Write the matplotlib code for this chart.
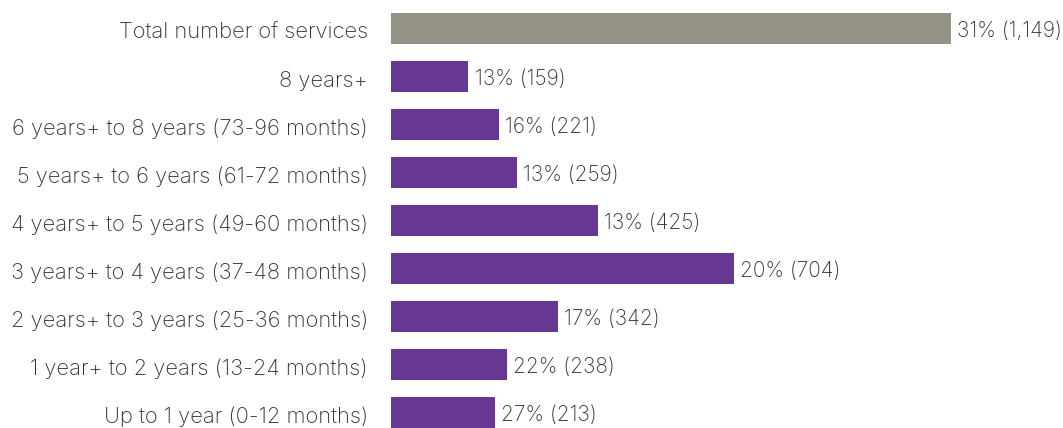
import matplotlib
matplotlib.use("Agg")
import matplotlib.pyplot as plt

categories = [
    "Total number of services",
    "8 years+",
    "6 years+ to 8 years (73-96 months)",
    "5 years+ to 6 years (61-72 months)",
    "4 years+ to 5 years (49-60 months)",
    "3 years+ to 4 years (37-48 months)",
    "2 years+ to 3 years (25-36 months)",
    "1 year+ to 2 years (13-24 months)",
    "Up to 1 year (0-12 months)",
]
counts = [1149, 159, 221, 259, 425, 704, 342, 238, 213]
percents = [31, 13, 16, 13, 13, 20, 17, 22, 27]

GREY = "#949285"
PURPLE = "#663894"
TEXT = "#333333"

plt.rcParams["font.family"] = ["Inter", "DejaVu Sans"]

W, H, DPI = 1063, 428, 100
fig = plt.figure(figsize=(W / DPI, H / DPI), dpi=DPI)
left = 391 / W
ax = fig.add_axes([left, 0, 1 - left, 1])

colors = [GREY] + [PURPLE] * (len(counts) - 1)
ypos = list(range(len(categories)))
ax.barh(ypos, counts, height=0.65, color=colors)

for y, c, p in zip(ypos, counts, percents):
    ax.text(c + 13, y + 0.05, f"{p}% ({c:,})", va="center", ha="left",
            fontsize=15, color=TEXT, fontweight="light")

ax.set_xlim(0, 1380)
ax.set_ylim((H - 28.5) / 48, -28.5 / 48)
ax.set_yticks([y + 0.05 for y in ypos])
ax.set_yticklabels(categories, fontsize=15.8, color=TEXT, fontweight="light")
ax.tick_params(axis="y", length=0, pad=16.5)
ax.set_xticks([])
for s in ax.spines.values():
    s.set_visible(False)

fig.savefig("out.png", dpi=DPI)
